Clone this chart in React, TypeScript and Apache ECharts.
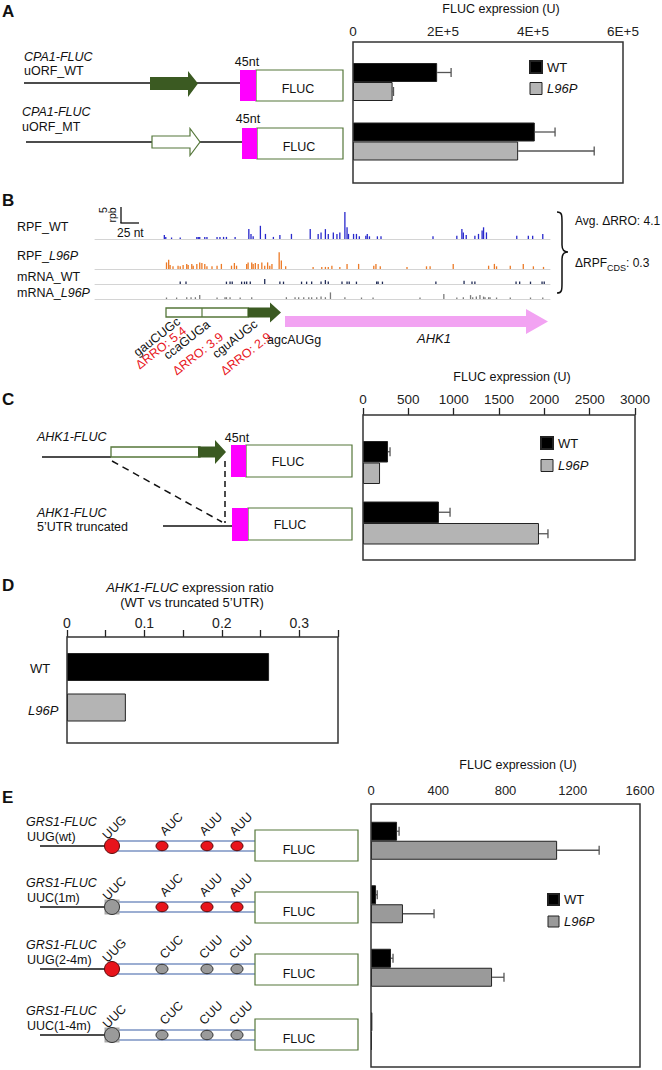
import React, { useEffect, useRef } from 'react';
import * as echarts from 'echarts';

// ---------------- DATA ----------------
const seriesNames = ['WT', 'L96P'];

// Panel A: CPA1-FLUC
const aConstructs = ['uORF_WT', 'uORF_MT'];
const aWT = [187000, 404000];
const aWTErr = [31000, 45000];
const aL96P = [88000, 367000];
const aL96PErr = [2000, 169000];
const aTickLabels = ['0', '2E+5', '4E+5', '6E+5'];

// Panel B: ribosome profiling tracks, [position (nt), reads (rpb)]
const rpfWT = [[96,1.3],[98,0.7],[106,0.5],[118,0.5],[141,0.7],[143,0.7],[145,0.7],[152,0.7],[155,0.7],[169,0.7],[173,0.7],[178,0.7],[182,0.7],[194,0.7],[213,3.3],[216,1.7],[219,0.9],[229,4.4],[236,1.7],[247,0.7],[256,1.3],[272,1.7],[298,3.3],[309,1.7],[313,2.2],[319,3.3],[323,1.7],[330,2.2],[335,1.7],[339,2.2],[346,9],[349,3.9],[351,1.7],[358,1.7],[362,1.7],[366,0.9],[375,1.1],[377,1.7],[380,0.9],[391,0.9],[396,0.9],[468,0.9],[501,1.1],[508,3.3],[510,2.2],[514,1.3],[526,1.1],[531,1.7],[536,2.8],[538,3.9],[542,2.2],[584,1.1],[600,1.1],[606,1.1],[620,1.7]];
const rpfL96P = [[99,2.2],[102,3.1],[104,1.3],[108,0.9],[115,1.1],[118,0.9],[122,1.3],[127,1.7],[129,1.3],[134,1.7],[136,1.1],[141,1.7],[145,2.2],[148,2.0],[152,1.7],[155,0.9],[162,0.9],[169,1.1],[175,1.7],[189,1.1],[193,2.0],[196,1.1],[210,1.7],[212,2.2],[217,2.2],[219,1.7],[222,2.0],[226,1.7],[231,2.2],[235,1.1],[239,2.2],[242,1.1],[245,1.7],[255,5.6],[258,2.8],[264,0.9],[302,0.7],[314,0.7],[319,0.7],[323,0.7],[328,1.1],[339,0.7],[349,1.7],[365,1.7],[386,1.1],[389,1.7],[395,0.9],[432,0.7],[459,0.9],[464,0.9],[496,1.7],[545,1.1],[553,1.7],[556,0.9],[575,1.1],[593,1.7],[607,0.9],[621,0.7]];
const mrnaWT = [[118,0.8],[126,0.8],[182,0.8],[187,0.8],[190,0.8],[203,0.8],[207,0.8],[210,0.8],[215,0.8],[235,1.7],[256,0.8],[261,0.8],[286,0.8],[293,0.8],[300,0.8],[313,0.8],[319,1.3],[323,0.8],[342,0.8],[349,0.8],[352,0.8],[362,0.8],[390,0.8],[392,0.8],[398,0.8],[472,0.8],[511,1.1],[522,0.8],[526,0.8],[583,0.8],[588,0.8],[603,0.8],[619,0.8],[622,0.8]];
const mrnaL96P = [[99,0.5],[113,0.5],[127,0.6],[133,0.6],[139,0.6],[145,1.3],[169,0.5],[180,0.6],[182,0.6],[187,0.6],[201,0.5],[217,0.6],[265,0.6],[277,0.6],[282,0.6],[289,0.6],[296,0.6],[300,0.6],[307,0.6],[313,0.8],[319,0.6],[326,2.2],[346,0.6],[369,0.5],[385,0.5],[450,0.5],[483,1.7],[501,0.5],[510,0.6],[520,1.3],[523,0.6],[528,0.8],[533,1.3],[538,0.8],[540,0.6],[545,0.6],[547,0.6],[556,0.5],[575,0.5],[603,0.5],[620,0.5]];
const trackNames = ['RPF_WT', 'RPF_L96P', 'mRNA_WT', 'mRNA_L96P'];
const trackColors = ['#2828cc', '#ec7a26', '#1f2a55', '#7a7a7a'];
const uorfCodons = ['gauCUGc', 'ccaGUGa', 'cguAUGc'];
const uorfRRO = ['ΔRRO: 5.4', 'ΔRRO: 3.9', 'ΔRRO: 2.9'];
const avgRRO = 'Avg. ΔRRO: 4.1';
const dRPF = '0.3';

// Panel C: AHK1-FLUC
const cConstructs = ['AHK1-FLUC', 'AHK1-FLUC 5’UTR truncated'];
const cWT = [276, 838];
const cWTErr = [22, 122];
const cL96P = [188, 1941];
const cL96PErr = [0, 99];
const cTickLabels = ['0', '500', '1000', '1500', '2000', '2500', '3000'];

// Panel D: expression ratio
const dGroups = ['WT', 'L96P'];
const dRatio = [0.261, 0.076];
const dTickLabels = ['0', '', '0.1', '', '0.2', '', '0.3', ''];

// Panel E: GRS1-FLUC
const eConstructs = ['UUG(wt)', 'UUC(1m)', 'UUG(2-4m)', 'UUC(1-4m)'];
const eCodons = [
  ['UUG', 'AUC', 'AUU', 'AUU'],
  ['UUC', 'AUC', 'AUU', 'AUU'],
  ['UUG', 'CUC', 'CUU', 'CUU'],
  ['UUC', 'CUC', 'CUU', 'CUU'],
];
const eWT = [155, 30, 119, 8];
const eWTErr = [12, 7, 12, 0];
const eL96P = [1107, 190, 720, 6];
const eL96PErr = [250, 185, 71, 0];
const eTickLabels = ['0', '400', '800', '1200', '1600'];

// ---------------- STYLE HELPERS ----------------
const FONT = '"Liberation Sans", Arial, Helvetica, sans-serif';
const GREEN = '#55773a';
const DGREEN = '#3b5a22';
const MAG = '#ff00ff';
const GRAY_A = '#b4b4b4';
const GRAY_E = '#9a9a9a';

const BRACE_D = 'M557,212 C562,212 562,215 562,222 L562,245 C562,250 564,252 568,252 C564,252 562,254 562,259 L562,283 C562,290 562,293 557,293';
echarts.graphic.registerShape('brace', echarts.graphic.extendPath(BRACE_D, {}));

function txt(x: number, y: number, text: string, o: any = {}) {
  const align = o.align || 'left';
  const valign = o.valign || 'middle';
  return {
    type: 'text', x, y, rotation: o.rot || 0, z: 30,
    style: {
      text, fill: o.color || '#111', fontSize: o.size || 12.5, fontFamily: FONT,
      fontStyle: o.italic ? 'italic' : 'normal', fontWeight: o.bold ? 'bold' : 'normal',
      textAlign: align, textVerticalAlign: valign, align, verticalAlign: valign,
      rich: o.rich,
    },
  };
}
function line(x1: number, y1: number, x2: number, y2: number, o: any = {}) {
  return { type: 'line', z: o.z || 20, shape: { x1, y1, x2, y2 }, style: { stroke: o.color || '#111', lineWidth: o.w || 1.3, lineDash: o.dash } };
}
function rect(x: number, y: number, w: number, h: number, o: any = {}) {
  return { type: 'rect', z: o.z || 20, shape: { x, y, width: w, height: h }, style: { fill: o.fill || 'none', stroke: o.stroke || 'none', lineWidth: o.w || 1.2 } };
}
function poly(points: number[][], o: any = {}) {
  return { type: 'polygon', z: o.z || 20, shape: { points }, style: { fill: o.fill || 'none', stroke: o.stroke || 'none', lineWidth: o.w || 1.2 } };
}
const italicRich = (size: number) => ({ i: { fontStyle: 'italic', fontSize: size, fontFamily: FONT, fill: '#111' }, n: { fontSize: size, fontFamily: FONT, fill: '#111' } });

function valTop(gi: number, max: number, interval: number, offset: number, labels: string[], ticks: boolean, margin: number, size: number) {
  return {
    type: 'value', gridIndex: gi, position: 'top', offset, min: 0, max, interval,
    axisLine: { show: false }, splitLine: { show: false },
    axisTick: { show: ticks, inside: false, length: 7, lineStyle: { color: '#222', width: 1.3 } },
    axisLabel: { fontSize: size, color: '#222', fontFamily: FONT, margin, formatter: (v: number) => labels[Math.round(v / interval)] ?? '' },
  };
}
function hiddenCat(gi: number, cats: string[]) {
  return { type: 'category', gridIndex: gi, data: cats, inverse: true, axisLine: { show: false }, axisTick: { show: false }, axisLabel: { show: false }, splitLine: { show: false } };
}
function barS(gi: number, name: string, data: number[], color: string, bw: number) {
  return { type: 'bar', name, xAxisIndex: gi, yAxisIndex: gi, data, barWidth: bw, barGap: '0%', itemStyle: { color, borderColor: '#222', borderWidth: 1 } };
}
function errS(gi: number, vals: number[], errs: number[], off: number) {
  return {
    type: 'custom', name: 'err' + gi + '_' + off, xAxisIndex: gi, yAxisIndex: gi, z: 5,
    data: vals.map((v, i) => [i, v, errs[i]]),
    encode: { x: 1, y: 0 },
    renderItem: (params: any, api: any) => {
      const c = api.value(0), v = api.value(1), e = api.value(2);
      if (!e) return { type: 'group', children: [] };
      const p0 = api.coord([v, c]);
      const p1 = api.coord([v + e, c]);
      const y = p0[1] + off;
      const st = { stroke: '#555', lineWidth: 1.3 };
      return {
        type: 'group', children: [
          { type: 'line', shape: { x1: p0[0], y1: y, x2: p1[0], y2: y }, style: st },
          { type: 'line', shape: { x1: p1[0], y1: y - 4.5, x2: p1[0], y2: y + 4.5 }, style: st },
        ],
      };
    },
  };
}
function legendAt(left: number, top: number, size: number, gap: number, grayColor: string) {
  return {
    left, top, orient: 'vertical', itemWidth: size, itemHeight: size, itemGap: gap, padding: 0,
    selectedMode: false, icon: 'rect',
    textStyle: { fontSize: 13, color: '#111', fontFamily: FONT, lineHeight: size },
    data: [
      { name: seriesNames[0] },
      { name: seriesNames[1], itemStyle: { color: grayColor, borderColor: '#222', borderWidth: 1 }, textStyle: { fontStyle: 'italic' } },
    ],
  };
}

// ---------------- GRAPHICS ----------------
function buildGraphics() {
  const els: any[] = [];
  // Panel letters
  els.push(txt(2, 11, 'A', { bold: true, size: 17 }));
  els.push(txt(2, 200, 'B', { bold: true, size: 17 }));
  els.push(txt(2, 399, 'C', { bold: true, size: 17 }));
  els.push(txt(2, 585, 'D', { bold: true, size: 17 }));
  els.push(txt(2, 797, 'E', { bold: true, size: 17 }));

  // ---- Panel A diagram
  els.push(txt(24, 57, 'CPA1-FLUC', { italic: true }));
  els.push(txt(24, 71, aConstructs[0]));
  els.push(line(24, 83, 240, 83));
  els.push(poly([[150, 77], [188, 77], [188, 71], [198, 83.5], [188, 97], [188, 90], [150, 90]], { fill: DGREEN }));
  els.push(rect(256, 70, 87, 31, { fill: '#fff', stroke: GREEN }));
  els.push(rect(240, 70, 16, 31, { fill: MAG, z: 21 }));
  els.push(txt(247, 62, '45nt', { align: 'center' }));
  els.push(txt(298, 89, 'FLUC', { align: 'center' }));

  els.push(txt(22, 112, 'CPA1-FLUC', { italic: true }));
  els.push(txt(22, 127, aConstructs[1]));
  els.push(line(26, 142, 242, 142));
  els.push(poly([[152, 136], [190, 136], [190, 128.5], [200, 142], [190, 155.5], [190, 148], [152, 148]], { fill: '#fff', stroke: GREEN }));
  els.push(rect(257, 128, 86, 31, { fill: '#fff', stroke: GREEN }));
  els.push(rect(242, 128, 15, 31, { fill: MAG, z: 21 }));
  els.push(txt(248, 119, '45nt', { align: 'center' }));
  els.push(txt(299, 147, 'FLUC', { align: 'center' }));

  // Panel A chart frame + title
  els.push(txt(501, 9, 'FLUC expression (U)', { align: 'center' }));
  els.push(rect(353, 42, 270, 141, { stroke: '#333', w: 1.5 }));

  // ---- Panel B
  const trackY = [227, 256, 277, 293];
  trackNames.forEach((n, i) => {
    const parts = n.split('_');
    if (parts[1] === 'L96P') {
      els.push(txt(17, trackY[i], `{n|${parts[0]}_}{i|${parts[1]}}`, { rich: italicRich(12.5) }));
    } else {
      els.push(txt(17, trackY[i], n));
    }
  });
  els.push(line(121, 207, 121, 223, { w: 1.3 }));
  els.push(line(120.4, 223, 139, 223, { w: 1.3 }));
  els.push(txt(102.5, 210, '5', { rot: Math.PI / 2, size: 10.5, align: 'center' }));
  els.push(txt(112, 215, 'rpb', { rot: Math.PI / 2, size: 10.5, align: 'center' }));
  els.push(txt(117, 233, '25 nt', { size: 12 }));
  els.push({ type: 'brace', x: 0, y: 0, z: 20, style: { fill: 'none', stroke: '#111', lineWidth: 1.5 } });
  els.push(txt(575, 221, avgRRO, { size: 12 }));
  els.push(txt(575, 263, `{a|ΔRPF}{s|CDS}{a|: ${dRPF}}`, {
    rich: { a: { fontSize: 12, lineHeight: 18, fontFamily: FONT, fill: '#111' }, s: { fontSize: 9, fontFamily: FONT, fill: '#111', verticalAlign: 'bottom' } },
  }));
  // gene model
  els.push(rect(166, 308, 82, 9, { fill: '#fff', stroke: GREEN, w: 1.3 }));
  els.push(line(202, 308, 202, 317, { color: GREEN, w: 1.2 }));
  els.push(poly([[248, 307.5], [270, 307.5], [270, 302.5], [281, 312.5], [270, 322.5], [270, 317.5], [248, 317.5]], { fill: DGREEN }));
  els.push(poly([[285, 316], [526, 316], [526, 309], [548, 321.5], [526, 334], [526, 327], [285, 327]], { fill: '#f2a3f2' }));
  const codonC = [[157, 337], [187, 340], [235, 339]];
  const rroC = [[161, 348], [198, 354], [246, 354]];
  const rot = (38 * Math.PI) / 180;
  uorfCodons.forEach((c, i) => els.push(txt(codonC[i][0], codonC[i][1], c, { rot, size: 12.5, align: 'center' })));
  uorfRRO.forEach((c, i) => els.push(txt(rroC[i][0], rroC[i][1], c, { rot, size: 12.5, align: 'center', color: '#e8141c' })));
  els.push(txt(267, 340, 'agcAUGg', { size: 12.5 }));
  els.push(txt(434, 338, 'AHK1', { italic: true, align: 'center', size: 13 }));

  // ---- Panel C diagram
  els.push(txt(37, 437, 'AHK1-FLUC', { italic: true }));
  els.push(line(42, 457, 111, 457));
  els.push(rect(111, 447, 89, 10, { fill: '#fff', stroke: GREEN, w: 1.3 }));
  els.push(poly([[198, 446.5], [215, 446.5], [215, 440], [226, 452], [215, 464], [215, 457.5], [198, 457.5]], { fill: DGREEN }));
  els.push(line(225, 461, 225, 523, { dash: [6, 4], w: 1.5 }));
  els.push(line(112, 461, 222, 522, { dash: [7, 5], w: 1.5 }));
  els.push(rect(246, 445, 106, 32, { fill: '#fff', stroke: GREEN }));
  els.push(rect(231, 445, 15, 32, { fill: MAG, z: 21 }));
  els.push(txt(237, 438, '45nt', { align: 'center' }));
  els.push(txt(288, 462, 'FLUC', { align: 'center' }));

  els.push(txt(37, 513, 'AHK1-FLUC', { italic: true }));
  els.push(txt(37, 527, '5’UTR truncated'));
  els.push(line(163, 526, 232, 526));
  els.push(rect(248, 508, 104, 32, { fill: '#fff', stroke: GREEN }));
  els.push(rect(232, 508, 16, 33, { fill: MAG, z: 21 }));
  els.push(txt(290, 525, 'FLUC', { align: 'center' }));

  els.push(txt(512, 377, 'FLUC expression (U)', { align: 'center' }));
  els.push(rect(363, 415, 272, 145, { stroke: '#333', w: 1.5 }));

  // ---- Panel D
  els.push(txt(190, 587, '{i|AHK1-FLUC} expression ratio', { align: 'center', size: 13, rich: { i: { fontStyle: 'italic', fontSize: 13, fontFamily: FONT, fill: '#111' } } }));
  els.push(txt(192, 602, '(WT vs truncated 5’UTR)', { align: 'center', size: 13 }));
  els.push(rect(67, 637, 271, 106, { stroke: '#333', w: 1.5 }));
  els.push(txt(30, 668, dGroups[0], { size: 13 }));
  els.push(txt(28, 710, dGroups[1], { size: 13, italic: true }));

  // ---- Panel E diagram
  const lineY = [846, 907, 969, 1035];
  const boxTop = [830, 892, 954, 1019];
  const smallX = [162, 207, 237];
  const labelC = [[114.5, -18.5], [171.5, -22], [211, -22], [241, -22]];
  eConstructs.forEach((c, r) => {
    const ly = lineY[r];
    els.push(txt(26, ly - 24, 'GRS1-FLUC', { italic: true }));
    els.push(txt(27, ly - 9, c));
    els.push(line(40, ly, 106, ly));
    els.push(line(112, ly - 5, 255, ly - 5, { color: '#3b5ea6', w: 1.2 }));
    els.push(line(112, ly + 5, 255, ly + 5, { color: '#3b5ea6', w: 1.2 }));
    els.push(rect(255, boxTop[r], 103, 31, { fill: '#fff', stroke: GREEN }));
    els.push(txt(299, boxTop[r] + 19.5, 'FLUC', { align: 'center' }));
    const codons = eCodons[r];
    const isRed = (s: string) => s === 'UUG' || s.startsWith('A');
    if (isRed(codons[0])) {
      els.push({ type: 'circle', z: 22, shape: { cx: 112, cy: ly, r: 7.5 }, style: { fill: '#e8141c', stroke: '#5a0a0a', lineWidth: 1 } });
    } else {
      els.push(rect(104.5, ly - 7.5, 15, 15, { fill: '#a8a8a8', z: 21 }));
      els.push({ type: 'circle', z: 22, shape: { cx: 112, cy: ly, r: 7.5 }, style: { fill: '#9a9a9a', stroke: '#333', lineWidth: 1 } });
    }
    smallX.forEach((sx, k) => {
      const red = isRed(codons[k + 1]);
      els.push({ type: 'ellipse', z: 22, shape: { cx: sx, cy: ly, rx: 6, ry: 4.7 }, style: { fill: red ? '#e8141c' : '#9a9a9a', stroke: red ? '#5a0a0a' : '#333', lineWidth: 1 } });
    });
    codons.forEach((cd, k) => els.push(txt(labelC[k][0], ly + labelC[k][1], cd, { rot: Math.PI / 4, size: 12.5, align: 'center' })));
  });

  els.push(txt(518, 765, 'FLUC expression (U)', { align: 'center' }));
  els.push(rect(371, 804, 269, 263, { stroke: '#333', w: 1.5 }));
  return els;
}

// ---------------- OPTION ----------------
function buildOption() {
  const trackBase = [239, 269, 284, 299];
  const grids: any[] = [
    { left: 353, top: 52.25, width: 270, height: 119 },
    ...trackBase.map((b) => ({ left: 95, top: b - 30, width: 455, height: 30 })),
    { left: 363, top: 432.25, width: 272, height: 121 },
    { left: 67, top: 646.75, width: 271, height: 81 },
    { left: 371, top: 809, width: 269, height: 254 },
  ];
  const trackX = (gi: number) => ({
    type: 'value', gridIndex: gi, min: 0, max: 630,
    axisLine: { show: true, lineStyle: { color: '#d4d4d4', width: 1 } },
    axisTick: { show: false }, axisLabel: { show: false }, splitLine: { show: false },
  });
  const trackY = (gi: number) => ({ type: 'value', gridIndex: gi, min: 0, max: 10, show: false, splitLine: { show: false } });
  const tracks = [rpfWT, rpfL96P, mrnaWT, mrnaL96P];

  return {
    animation: false,
    backgroundColor: '#ffffff',
    textStyle: { fontFamily: FONT },
    grid: grids,
    xAxis: [
      valTop(0, 600000, 200000, 10.25, aTickLabels, false, 3.5, 13.5),
      trackX(1), trackX(2), trackX(3), trackX(4),
      valTop(5, 3000, 500, 17.25, cTickLabels, true, 8.5, 13.5),
      valTop(6, 0.35, 0.05, 9.75, dTickLabels, true, 7.5, 14),
      valTop(7, 1600, 400, 5, eTickLabels, false, 7.5, 13),
    ],
    yAxis: [
      hiddenCat(0, aConstructs),
      trackY(1), trackY(2), trackY(3), trackY(4),
      hiddenCat(5, cConstructs),
      hiddenCat(6, dGroups),
      hiddenCat(7, eConstructs),
    ],
    legend: [
      legendAt(529, 60, 12, 8, GRAY_A),
      legendAt(540, 436, 12, 9, GRAY_A),
      legendAt(547, 893, 11, 9, GRAY_E),
    ],
    series: [
      barS(0, seriesNames[0], aWT, '#000', 19),
      barS(0, seriesNames[1], aL96P, GRAY_A, 19),
      errS(0, aWT, aWTErr, -9.5),
      errS(0, aL96P, aL96PErr, 9.5),
      ...tracks.map((d, i) => ({
        type: 'bar', name: trackNames[i], xAxisIndex: i + 1, yAxisIndex: i + 1,
        data: d, barWidth: 1.3, itemStyle: { color: trackColors[i] },
      })),
      barS(5, seriesNames[0], cWT, '#000', 21.5),
      barS(5, seriesNames[1], cL96P, GRAY_A, 21.5),
      errS(5, cWT, cWTErr, -10.75),
      errS(5, cL96P, cL96PErr, 10.75),
      {
        type: 'bar', name: 'ratio', xAxisIndex: 6, yAxisIndex: 6, barWidth: 28,
        data: dRatio.map((v, i) => ({ value: v, itemStyle: { color: i === 0 ? '#000' : GRAY_A } })),
        itemStyle: { borderColor: '#222', borderWidth: 1 },
      },
      barS(7, seriesNames[0], eWT, '#000', 19),
      barS(7, seriesNames[1], eL96P, GRAY_E, 19),
      errS(7, eWT, eWTErr, -9.5),
      errS(7, eL96P, eL96PErr, 9.5),
    ],
    graphic: { elements: buildGraphics() },
  };
}

export default function App() {
  const ref = useRef<HTMLDivElement>(null);
  useEffect(() => {
    document.body.style.margin = '0';
    if (!ref.current) return;
    const chart = echarts.init(ref.current, null, { renderer: 'svg' });
    chart.setOption(buildOption() as any);
    return () => chart.dispose();
  }, []);
  return <div ref={ref} style={{ width: 662, height: 1070 }} />;
}
